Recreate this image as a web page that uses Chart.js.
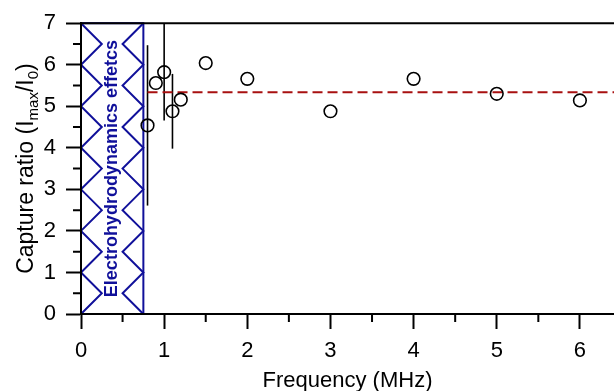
<!DOCTYPE html>
<html>
<head>
<title>Capture ratio vs frequency</title>
<script src="https://cdn.jsdelivr.net/npm/chart.js@4.4.0/dist/chart.umd.min.js"></script>
<style>
  html, body { margin: 0; padding: 0; background: #fff; }
  #wrap { width: 614px; height: 391px; }
</style>
</head>
<body>
<div id="wrap"><canvas id="chart" width="614" height="391"></canvas></div>
<script>
// measured points (MHz, Imax/I0)
const frequency    = [0.8, 0.9, 1.0, 1.1, 1.2, 1.5, 2, 3, 4, 5, 6];
const captureRatio = [4.54, 5.56, 5.82, 4.88, 5.16, 6.04, 5.66, 4.88, 5.66, 5.30, 5.14];
const errorBar     = [1.93, 0, 1.16, 0.90, 0, 0, 0, 0, 0, 0, 0];

// mean capture ratio (dashed red line)
const meanRatio = 5.34;
const meanRange = [0.8, 6.41];

// low frequency zone
const ehdRange = [0, 0.75];
const ehdLabel = 'Electrohydrodynamics effetcs';

const xRange = [0, 6.41];
const yRange = [0, 7];
const xTicks = [0, 1, 2, 3, 4, 5, 6];

const BLUE = '#10109a';
const FONT = '"Liberation Sans", Arial, sans-serif';

const decor = {
    id: 'decor',
    beforeDraw(chart) {
        // hatched EHD box
        const ctx = chart.ctx;
        const x = chart.scales.x, y = chart.scales.y;
        const x0 = x.getPixelForValue(ehdRange[0]);
        const x1 = x.getPixelForValue(ehdRange[1]);
        const xa = x.getPixelForValue(ehdRange[0] + (ehdRange[1] - ehdRange[0]) / 3);
        const xb = x.getPixelForValue(ehdRange[1] - (ehdRange[1] - ehdRange[0]) / 3);
        ctx.save();
        ctx.strokeStyle = BLUE;
        ctx.lineWidth = 2;
        ctx.strokeRect(x0, y.getPixelForValue(yRange[1]), x1 - x0, y.getPixelForValue(yRange[0]) - y.getPixelForValue(yRange[1]));
        ctx.beginPath();
        for (let v = yRange[1]; v >= yRange[0]; v -= 0.5) {
            const py = y.getPixelForValue(v);
            const whole = Number.isInteger(v);
            if (v === yRange[1]) ctx.moveTo(whole ? x0 : xa, py);
            else ctx.lineTo(whole ? x0 : xa, py);
        }
        for (let v = yRange[1]; v >= yRange[0]; v -= 0.5) {
            const py = y.getPixelForValue(v);
            const whole = Number.isInteger(v);
            if (v === yRange[1]) ctx.moveTo(whole ? x1 : xb, py);
            else ctx.lineTo(whole ? x1 : xb, py);
        }
        ctx.stroke();

        // label
        const cy = (y.getPixelForValue(yRange[0]) + y.getPixelForValue(yRange[1])) / 2;
        ctx.translate((x0 + x1) / 2 + 5, cy);
        ctx.rotate(-Math.PI / 2);
        ctx.fillStyle = BLUE;
        ctx.font = 'bold 18px ' + FONT;
        ctx.textAlign = 'center';
        ctx.textBaseline = 'alphabetic';
        ctx.fillText(ehdLabel, 0, 0);
        ctx.restore();
    },
    beforeDatasetsDraw(chart) {
        // error bars
        const ctx = chart.ctx;
        const x = chart.scales.x, y = chart.scales.y;
        ctx.save();
        ctx.strokeStyle = '#000';
        ctx.lineWidth = 1.6;
        for (let i = 0; i < frequency.length; i++) {
            if (!errorBar[i]) continue;
            const px = x.getPixelForValue(frequency[i]);
            ctx.beginPath();
            ctx.moveTo(px, y.getPixelForValue(Math.min(captureRatio[i] + errorBar[i], yRange[1])));
            ctx.lineTo(px, y.getPixelForValue(captureRatio[i] - errorBar[i]));
            ctx.stroke();
        }
        ctx.restore();
    },
    afterDraw(chart) {
        const ctx = chart.ctx;
        const area = chart.chartArea;
        const x = chart.scales.x, y = chart.scales.y;
        ctx.save();
        ctx.strokeStyle = '#000';
        ctx.lineWidth = 2;
        // top frame line
        ctx.beginPath();
        ctx.moveTo(area.left, area.top);
        ctx.lineTo(area.right, area.top);
        ctx.stroke();
        // minor ticks
        ctx.beginPath();
        for (let v = 0.5; v < xRange[1]; v += 1) {
            const px = x.getPixelForValue(v);
            ctx.moveTo(px, area.bottom);
            ctx.lineTo(px, area.bottom + 8);
        }
        for (let v = 0.5; v < yRange[1]; v += 1) {
            const py = y.getPixelForValue(v);
            ctx.moveTo(area.left, py);
            ctx.lineTo(area.left - 8, py);
        }
        ctx.stroke();

        // axis titles
        ctx.fillStyle = '#000';
        ctx.font = '22px ' + FONT;
        ctx.textAlign = 'center';
        ctx.textBaseline = 'alphabetic';
        ctx.fillText('Frequency (MHz)', (area.left + area.right) / 2, 387);

        const big = '23px ' + FONT, small = '15px ' + FONT;
        const parts = [['Capture ratio (I', big, 0], ['max', small, 5], ['/I', big, 0], ['0', small, 5], [')', big, 0]];
        let total = 0;
        parts.forEach(p => { ctx.font = p[1]; total += ctx.measureText(p[0]).width; });
        ctx.translate(33, (area.top + area.bottom) / 2);
        ctx.rotate(-Math.PI / 2);
        ctx.textAlign = 'left';
        let cx = -total / 2;
        parts.forEach(p => {
            ctx.font = p[1];
            ctx.fillText(p[0], cx, p[2]);
            cx += ctx.measureText(p[0]).width;
        });
        ctx.restore();
    }
};

new Chart(document.getElementById('chart'), {
    type: 'scatter',
    data: {
        datasets: [{
            label: 'Capture ratio',
            data: frequency.map((f, i) => ({ x: f, y: captureRatio[i] })),
            pointStyle: 'circle',
            pointRadius: 6.3,
            pointBorderWidth: 1.6,
            pointBorderColor: '#000',
            pointBackgroundColor: 'rgba(0,0,0,0)',
            showLine: false
        }, {
            type: 'line',
            label: 'Mean',
            data: meanRange.map(f => ({ x: f, y: meanRatio })),
            borderColor: '#a81010',
            borderWidth: 2,
            borderDash: [10, 5],
            pointRadius: 0
        }]
    },
    options: {
        responsive: false,
        animation: false,
        devicePixelRatio: 1,
        layout: { autoPadding: false, padding: { top: 22, right: 0, left: 0, bottom: 0 } },
        plugins: { legend: { display: false }, tooltip: { enabled: false } },
        scales: {
            x: {
                type: 'linear',
                min: xRange[0],
                max: xRange[1],
                afterBuildTicks: s => { s.ticks = xTicks.map(v => ({ value: v })); },
                afterFit: s => { s.height = 77; },
                ticks: { color: '#000', font: { size: 22, family: FONT }, padding: 9, maxRotation: 0 },
                grid: { drawOnChartArea: false, tickLength: 15, tickWidth: 2, tickColor: '#000' },
                border: { color: '#000', width: 2 }
            },
            y: {
                min: yRange[0],
                max: yRange[1],
                afterFit: s => { s.width = 81; },
                ticks: { stepSize: 1, color: '#000', font: { size: 22, family: FONT }, padding: 10 },
                grid: { drawOnChartArea: false, tickLength: 15, tickWidth: 2, tickColor: '#000' },
                border: { color: '#000', width: 2 }
            }
        }
    },
    plugins: [decor]
});
</script>
</body>
</html>
